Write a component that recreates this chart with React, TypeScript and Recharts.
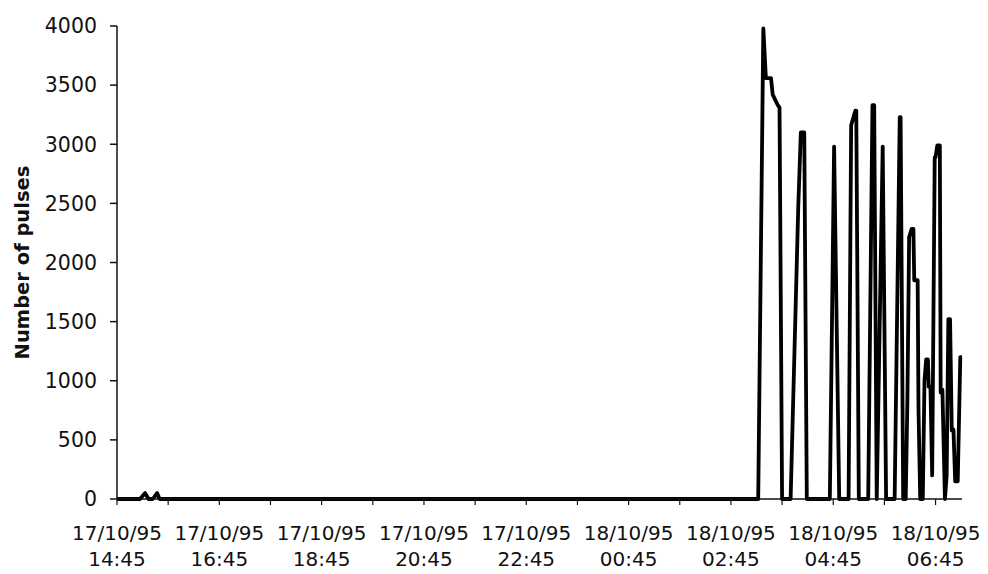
import { LineChart, Line, XAxis, YAxis } from 'recharts';

// minutes after 17/10/95 14:45
const minutes = [
  0, 27, 33, 37, 42, 47, 50, 752, 758, 761, 767, 769, 775, 777, 780, 790, 799,
  802, 806, 809, 836, 841, 847, 858, 861, 866, 867, 870, 881, 886, 888, 891,
  898, 902, 912, 918, 919, 922, 925, 927, 929, 932, 934, 935, 939, 940, 942,
  945, 947, 949, 951, 952, 954, 956, 959, 960, 962, 965, 966, 968, 971, 973,
  975, 977, 979, 981, 983, 986, 989, 991,
];
const pulses = [
  0, 0, 50, 0, 0, 50, 0, 0, 3980, 3560, 3560, 3420, 3330, 3310, 0, 0, 2480,
  3100, 3100, 0, 0, 2980, 0, 0, 3160, 3285, 3285, 0, 0, 3330, 3330, 0, 2980, 0,
  0, 3230, 3230, 0, 0, 850, 2215, 2285, 2285, 1850, 1850, 750, 0, 0, 1000,
  1180, 1180, 950, 950, 200, 2890, 2890, 2990, 2990, 900, 925, 0, 200, 1520,
  1520, 580, 585, 150, 150, 1200, 1200,
];

const xTicks = [0, 60, 120, 180, 240, 300, 360, 420, 480, 540, 600, 660, 720, 780, 840, 900, 960];
const xLabels: Record<number, [string, string]> = {
  0: ['17/10/95', '14:45'],
  120: ['17/10/95', '16:45'],
  240: ['17/10/95', '18:45'],
  360: ['17/10/95', '20:45'],
  480: ['17/10/95', '22:45'],
  600: ['18/10/95', '00:45'],
  720: ['18/10/95', '02:45'],
  840: ['18/10/95', '04:45'],
  960: ['18/10/95', '06:45'],
};
const yTicks = [0, 500, 1000, 1500, 2000, 2500, 3000, 3500, 4000];

const data = minutes.map((m, i) => ({ t: m, v: pulses[i] }));

const FONT = '"DejaVu Sans", sans-serif';

function TimeTick(props: any) {
  const { x, y, payload } = props;
  const lab = xLabels[payload.value];
  if (!lab) return null;
  return (
    <text x={x} textAnchor="middle" fontFamily={FONT} fontSize={20} fill="#111">
      <tspan x={x} y={y + 33}>{lab[0]}</tspan>
      <tspan x={x} y={y + 59}>{lab[1]}</tspan>
    </text>
  );
}

export default function App() {
  return (
    <div style={{ position: 'absolute', left: 0, top: 0, background: '#fff' }}>
      <LineChart
        width={988}
        height={574}
        data={data}
        margin={{ top: 26, right: 26, left: 0, bottom: 0 }}
      >
        <XAxis
          dataKey="t"
          type="number"
          domain={[0, 991]}
          ticks={xTicks}
          interval={0}
          height={75}
          tick={<TimeTick />}
          tickSize={6}
          axisLine={{ stroke: '#111', strokeWidth: 1.5 }}
          tickLine={{ stroke: '#111', strokeWidth: 1.2 }}
        />
        <YAxis
          type="number"
          domain={[0, 4000]}
          ticks={yTicks}
          interval={0}
          width={117}
          tickSize={7}
          tickMargin={13}
          tick={{ fontFamily: FONT, fontSize: 20.5, fill: '#111' }}
          axisLine={{ stroke: '#111', strokeWidth: 1.5 }}
          tickLine={{ stroke: '#111', strokeWidth: 1.5 }}
          label={{
            value: 'Number of pulses',
            angle: -90,
            position: 'center',
            dx: -36,
            style: { fontFamily: FONT, fontSize: 19.5, fontWeight: 'bold', fill: '#111', textAnchor: 'middle' },
          }}
        />
        <Line
          type="linear"
          dataKey="v"
          stroke="#000"
          strokeWidth={3.8}
          strokeLinejoin="round"
          dot={false}
          isAnimationActive={false}
        />
      </LineChart>
    </div>
  );
}
